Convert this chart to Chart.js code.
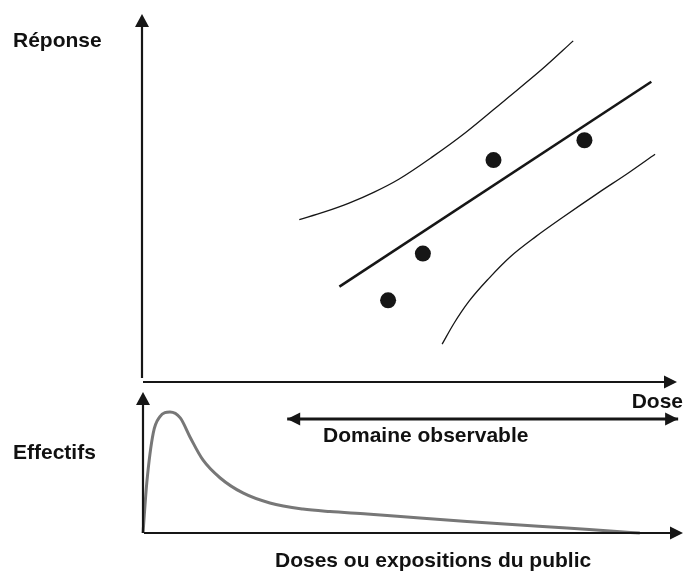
<!DOCTYPE html>
<html>
<head>
<meta charset="utf-8">
<script src="https://cdn.jsdelivr.net/npm/chart.js@4"></script>
<style>
  body { margin: 0; background: #fff; }
  #wrap { position: relative; width: 685px; height: 571px; overflow: hidden; }
  canvas { position: absolute; left: 0; }
  .lbl { position: absolute; font: bold 21px "Liberation Sans", Arial, sans-serif; line-height: 21px; color: #111; white-space: nowrap; }
</style>
</head>
<body>
<div id="wrap">
  <canvas id="topChart" width="685" height="390" style="top:0"></canvas>
  <canvas id="bottomChart" width="685" height="183" style="top:388px"></canvas>
  <div class="lbl" style="left:13px; top:29px">Réponse</div>
  <div class="lbl" style="left:13px; top:441px">Effectifs</div>
  <div class="lbl" style="right:2px; top:390px">Dose</div>
  <div class="lbl" style="left:323px; top:424px">Domaine observable</div>
  <div class="lbl" style="left:275px; top:549px">Doses ou expositions du public</div>
</div>
<script>
// observations (dose, response)
const obsX = [46.0, 52.5, 65.7, 82.7];
const obsY = [22.2, 34.9, 60.3, 65.7];

// fitted line
const fitX = [36.9, 95.2];
const fitY = [25.9, 81.6];

// confidence band
const upperX = [29.4, 34.1, 38.7, 43.4, 48.0, 54.2, 60.5, 68.0, 74.7, 80.6];
const upperY = [44.1, 46.2, 48.6, 51.6, 55.1, 61.1, 67.8, 76.8, 84.9, 92.7];
const lowerX = [56.1, 58.3, 61.1, 64.8, 68.9, 73.6, 78.8, 85.3, 90.9, 95.9];
const lowerY = [10.3, 15.9, 21.9, 28.1, 34.1, 39.5, 44.9, 51.4, 56.8, 61.9];

// population exposure distribution
const popX = [0, 0.7, 1.9, 3.1, 5.0, 6.9, 8.7, 11.1, 14.3, 18.5, 23.5, 29.6, 34.6, 41.5, 51.3, 60.0, 69.8, 78.5, 86.5, 92.0];
const popY = [0, 35.5, 70.9, 82.3, 85.8, 81.6, 68.1, 51.8, 39.0, 28.4, 21.3, 17.0, 15.2, 13.5, 10.6, 8.2, 5.7, 3.5, 1.4, 0];

// observable range
const rangeX = [26.7, 99.1];
const rangeY = [80.9, 80.9];

const ink = '#161616';

function pts(xs, ys) {
  return xs.map((x, i) => ({ x: x, y: ys[i] }));
}

function head(ctx, tx, ty, dx, dy, len, half) {
  // triangle with tip at (tx,ty) pointing along (dx,dy)
  const px = -dy, py = dx;
  ctx.beginPath();
  ctx.moveTo(tx, ty);
  ctx.lineTo(tx - dx * len + px * half, ty - dy * len + py * half);
  ctx.lineTo(tx - dx * len - px * half, ty - dy * len - py * half);
  ctx.closePath();
  ctx.fill();
}

const axesPlugin = {
  id: 'arrowAxes',
  afterDraw(chart) {
    const { ctx, chartArea: a } = chart;
    ctx.save();
    ctx.strokeStyle = ink;
    ctx.fillStyle = ink;
    ctx.lineWidth = 2.2;
    ctx.beginPath();
    ctx.moveTo(a.left, a.bottom - chart.options.plugins.arrowAxes.gap);
    ctx.lineTo(a.left, a.top + 12);
    ctx.moveTo(a.left + 1, a.bottom);
    ctx.lineTo(a.right - 11, a.bottom);
    ctx.stroke();
    head(ctx, a.left, a.top, 0, -1, 13, 7);
    head(ctx, a.right, a.bottom, 1, 0, 13, 6.5);

    chart.data.datasets.forEach((ds, i) => {
      if (!ds.arrows) return;
      const p = chart.getDatasetMeta(i).data;
      const first = p[0], last = p[p.length - 1];
      head(ctx, first.x, first.y, -1, 0, 13, 6.5);
      head(ctx, last.x, last.y, 1, 0, 13, 6.5);
    });
    ctx.restore();
  }
};

const baseScales = {
  x: { type: 'linear', min: 0, max: 100, display: false },
  y: { type: 'linear', min: 0, max: 100, display: false }
};

new Chart(document.getElementById('topChart'), {
  type: 'scatter',
  data: {
    datasets: [
      { data: pts(upperX, upperY), showLine: true, borderColor: ink, borderWidth: 1.3, pointRadius: 0, cubicInterpolationMode: 'monotone', clip: false },
      { data: pts(lowerX, lowerY), showLine: true, borderColor: ink, borderWidth: 1.3, pointRadius: 0, cubicInterpolationMode: 'monotone', clip: false },
      { data: pts(fitX, fitY), showLine: true, borderColor: ink, borderWidth: 2.6, pointRadius: 0, clip: false },
      { data: pts(obsX, obsY), showLine: false, pointRadius: 8, backgroundColor: ink, borderWidth: 0, clip: false }
    ]
  },
  options: {
    responsive: false,
    animation: false,
    layout: { padding: { left: 142, right: 6, top: 14, bottom: 6 } },
    scales: baseScales,
    plugins: {
      legend: { display: false },
      tooltip: { enabled: false },
      arrowAxes: { gap: 4 }
    }
  },
  plugins: [axesPlugin]
});

new Chart(document.getElementById('bottomChart'), {
  type: 'scatter',
  data: {
    datasets: [
      { data: pts(popX, popY), showLine: true, borderColor: '#777777', borderWidth: 3, pointRadius: 0, cubicInterpolationMode: 'monotone', clip: false },
      { data: pts(rangeX, rangeY), showLine: true, borderColor: ink, borderWidth: 3, pointRadius: 0, arrows: true, clip: false }
    ]
  },
  options: {
    responsive: false,
    animation: false,
    layout: { padding: { left: 143, right: 2, top: 4, bottom: 38 } },
    scales: baseScales,
    plugins: {
      legend: { display: false },
      tooltip: { enabled: false },
      arrowAxes: { gap: 0 }
    }
  },
  plugins: [axesPlugin]
});
</script>
</body>
</html>
